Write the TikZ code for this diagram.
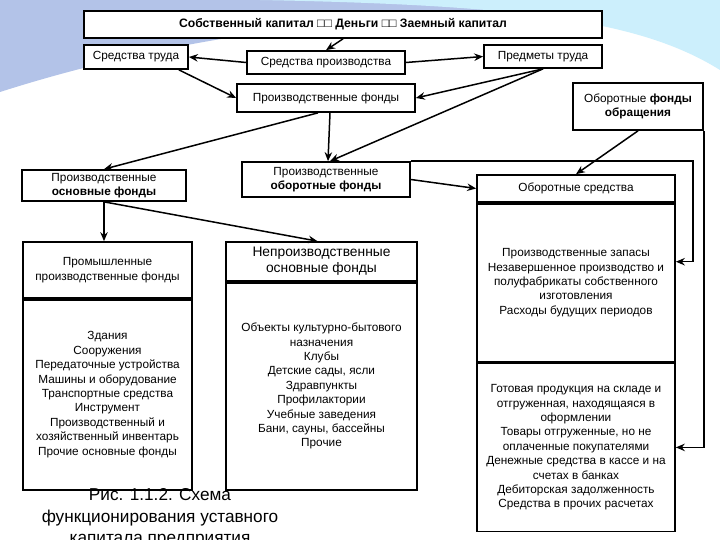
\documentclass[tikz,border=0pt]{standalone}
\usepackage{fontspec}
\setmainfont{Liberation Sans}
\usetikzlibrary{arrows.meta, positioning}

\begin{document}
\begin{tikzpicture}[x=1pt, y=-1pt,
    every node/.style={font=\fontsize{11.8}{14.4}\selectfont},
    box/.style={draw, line width=1.7pt, fill=white, align=center, inner sep=1pt},
    arr/.style={-{Stealth[length=9pt, width=7.5pt, inset=3pt]}, line width=1.5pt}]

    % Draw the slide
    \clip (0,0) rectangle (720,540);
    \fill[white] (0,0) rectangle (720,540);
    \fill[cyan!45!blue!30] (0,0) -- (720,0) -- (720,22) .. controls (520,2) and (250,12) .. (0,92) -- cycle;
    \fill[cyan!20] (260,0) -- (720,0) -- (720,70) .. controls (640,20) and (520,5) .. (260,0) -- cycle;

    % Draw the upper boxes
    \node[box, minimum width=518pt, minimum height=27pt, font=\fontsize{12.2}{14.4}\selectfont] (kap) at (343,24.5)
        {\bfseries Собственный капитал □□ Деньги □□ Заемный капитал};
    \node[box, minimum width=104pt, minimum height=24pt] (trud) at (136,57) {Средства труда};
    \node[box, minimum width=158pt, minimum height=23pt] (sredpr) at (326,62.5) {Средства производства};
    \node[box, minimum width=118pt, minimum height=23pt] (predm) at (543,56.5) {Предметы труда};
    \node[box, minimum width=178pt, minimum height=28pt] (prfond) at (326,98) {Производственные фонды};
    \node[box, minimum width=130pt, minimum height=47pt] (obrash) at (638,106.5)
        {Оборотные \textbf{фонды}\\\textbf{обращения}};

    % Draw the middle boxes
    \node[box, minimum width=164pt, minimum height=31pt] (osnf) at (104,185.5)
        {Производственные\\\textbf{основные фонды}};
    \node[box, minimum width=168pt, minimum height=35pt] (obf) at (326,179.5)
        {Производственные\\\textbf{оборотные фонды}};

    % Draw the lower boxes
    \node[box, minimum width=169pt, minimum height=56pt] (prom) at (107.5,270)
        {Промышленные\\производственные фонды};
    \node[box, minimum width=169pt, minimum height=190pt, below=0pt of prom] (promsp)
        {Здания\\Сооружения\\Передаточные устройства\\Машины и оборудование\\Транспортные средства\\Инструмент\\Производственный и\\хозяйственный инвентарь\\Прочие основные фонды};
    \node[box, minimum width=191pt, minimum height=39pt, font=\fontsize{13.8}{16}\selectfont] (neprom) at (321.5,261.5)
        {Непроизводственные\\основные фонды};
    \node[box, minimum width=191pt, minimum height=207pt, below=0pt of neprom] (nepromsp)
        {Объекты культурно-бытового\\назначения\\Клубы\\Детские сады, ясли\\Здравпункты\\Профилактории\\Учебные заведения\\Бани, сауны, бассейны\\Прочие};
    \node[box, minimum width=198pt, minimum height=27pt] (obsr) at (576,188.5) {Оборотные средства};
    \node[box, minimum width=198pt, minimum height=158pt, below=0pt of obsr] (zapas)
        {Производственные запасы\\Незавершенное производство и\\полуфабрикаты собственного\\изготовления\\Расходы будущих периодов};
    \node[box, minimum width=198pt, minimum height=168pt, below=0pt of zapas] (gotov)
        {Готовая продукция на складе и\\отгруженная, находящаяся в\\оформлении\\Товары отгруженные, но не\\оплаченные покупателями\\Денежные средства в кассе и на\\счетах в банках\\Дебиторская задолженность\\Средства в прочих расчетах};

    % Draw the arrows
    \draw[arr] (kap.south) -- (sredpr.north);
    \draw[arr] (sredpr.west) -- (trud.east);
    \draw[arr] (sredpr.east) -- (predm.west);
    \draw[arr] ([xshift=-10pt]trud.south east) -- (prfond.west);
    \draw[arr] (predm.south) -- (prfond.east);
    \draw[arr] (predm.south) -- ([xshift=4pt]obf.north);
    \draw[arr] ([xshift=-8pt]prfond.south) -- (osnf.north);
    \draw[arr] ([xshift=4pt]prfond.south) -- ([xshift=2pt]obf.north);
    \draw[arr] (obf.east) -- (obsr.west);
    \draw[arr] (obrash.south) -- (obsr.north);
    \draw[arr] (osnf.south) -- (osnf.south |- prom.north);
    \draw[arr] (osnf.south) -- ([xshift=-4pt]neprom.north);
    \draw[arr] (obf.north east) -- ++(282,0) |- ([yshift=21pt]zapas.east);
    \draw[arr] (obrash.south east) |- (gotov.east);

    % Draw the caption
    \node[align=center, font=\fontsize{17.2}{21.5}\selectfont] (capt) at (160,518)
        {Рис. 1.1.2. Схема\\функционирования уставного\\капитала предприятия};
\end{tikzpicture}
\end{document}
